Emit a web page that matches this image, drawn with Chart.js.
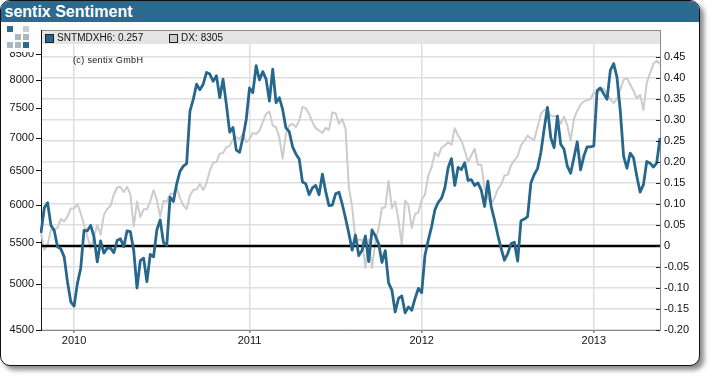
<!DOCTYPE html>
<html>
<head>
<meta charset="utf-8">
<title>sentix Sentiment</title>
<script src="https://cdn.jsdelivr.net/npm/chart.js@4"></script>
<style>
  html, body { margin: 0; padding: 0; background: #fff; }
  body { width: 710px; height: 376px; overflow: hidden; position: relative; font-family: "Liberation Sans", Arial, sans-serif; }
  #card { position: absolute; left: 0; top: 0; width: 698px; height: 364px; border: 1.5px solid #111; border-radius: 10px; background: #fff; box-shadow: 4px 4px 5px #8a8a8a; overflow: hidden; }
  #title { position: absolute; left: 0; top: 0; right: 0; height: 20.5px; background: #2a6a8e; color: #fff; font-weight: bold; font-size: 16px; line-height: 21px; padding-left: 3.5px; }
  #chart { position: absolute; left: 0; top: 0; }
  #logo { position: absolute; left: 3px; top: 23px; width: 37px; height: 29px; background: #fff; }
  #logo i { position: absolute; width: 6px; height: 6px; }
  #band { position: absolute; left: 42px; top: 30px; width: 618px; height: 13px; border-top: 1px solid #888; background: #e4e4e4; font-size: 10px; letter-spacing: 0.05px; line-height: 14px; color: #111; }
  #band span { position: absolute; top: 0; white-space: nowrap; }
  #band i { position: absolute; top: 3px; width: 7px; height: 7px; border: 1px solid #222; }
  #copy { position: absolute; left: 73px; top: 55px; font-size: 9px; letter-spacing: 0.35px; color: #111; }
</style>
</head>
<body>
<div id="card"><div id="title">sentix Sentiment</div></div>
<canvas id="chart" width="710" height="376"></canvas>
<div id="logo"></div>
<div id="band">
  <i style="left:3px;background:#26678b"></i><span style="left:15px">SNTMDXH6: 0.257</span>
  <i style="left:127px;background:#ccc"></i><span style="left:139px">DX: 8305</span>
</div>
<div id="copy">(c) sentix GmbH</div>
<script>
const sentimentValues = [
  0.031, 0.091, 0.103, 0.049, 0.037, -0.002, -0.007, -0.026, -0.085, -0.133, -0.143, -0.089, -0.053, 0.037, 0.036, 0.049,
  0.022, -0.038, 0.012, -0.017, -0.005, -0.005, -0.016, 0.013, 0.017, -0.002, 0.036, 0.034, -0.010, -0.100, -0.035, -0.029,
  -0.085, -0.020, -0.026, 0.038, 0.062, 0.008, 0.002, 0.116, 0.106, 0.148, 0.178, 0.190, 0.196, 0.321, 0.349, 0.385,
  0.372, 0.385, 0.413, 0.409, 0.392, 0.405, 0.353, 0.397, 0.337, 0.271, 0.282, 0.228, 0.223, 0.258, 0.301, 0.376,
  0.365, 0.429, 0.395, 0.415, 0.397, 0.345, 0.421, 0.341, 0.353, 0.325, 0.281, 0.272, 0.236, 0.219, 0.207, 0.152,
  0.148, 0.122, 0.138, 0.144, 0.122, 0.171, 0.130, 0.096, 0.097, 0.124, 0.128, 0.100, 0.066, 0.030, -0.010, 0.026,
  -0.023, -0.010, 0.024, -0.037, 0.038, 0.024, 0.005, -0.039, -0.011, -0.088, -0.105, -0.157, -0.125, -0.119, -0.159, -0.145,
  -0.153, -0.125, -0.101, -0.111, -0.022, 0.014, 0.046, 0.086, 0.104, 0.114, 0.138, 0.186, 0.208, 0.144, 0.187, 0.182,
  0.198, 0.156, 0.158, 0.144, 0.150, 0.133, 0.094, 0.154, 0.094, 0.062, 0.026, -0.006, -0.034, -0.018, 0.005, 0.009,
  -0.036, 0.060, 0.064, 0.070, 0.150, 0.170, 0.184, 0.222, 0.278, 0.330, 0.258, 0.234, 0.309, 0.242, 0.230, 0.190,
  0.173, 0.210, 0.248, 0.181, 0.214, 0.236, 0.236, 0.238, 0.370, 0.376, 0.362, 0.349, 0.418, 0.434, 0.402, 0.322,
  0.214, 0.185, 0.221, 0.210, 0.166, 0.128, 0.146, 0.201, 0.197, 0.188, 0.197, 0.257
];

const daxValues = [
  5627, 5415, 5476, 5671, 5671, 5693, 5811, 5780, 5846, 5956, 5956, 6015, 5890, 5737, 5583, 5436,
  5583, 5728, 5605, 5868, 5947, 5991, 6150, 6250, 6260, 6185, 6260, 6150, 5715, 6050, 5838, 5943,
  5943, 6050, 6215, 6075, 5846, 6060, 6050, 6160, 6160, 6250, 6100, 6000, 5947, 6135, 6215, 6225,
  6300, 6215, 6315, 6500, 6618, 6629, 6758, 6768, 6861, 6876, 6990, 7017, 6990, 7072, 6938, 6990,
  7089, 7072, 7128, 7267, 7406, 7445, 7211, 7184, 7017, 6680, 7072, 7211, 7239, 7184, 7295, 7528,
  7500, 7406, 7267, 7167, 7128, 7089, 7172, 7139, 7433, 7417, 7239, 7322, 7156, 6250, 5978, 5540,
  5540, 5540, 5194, 5540, 5194, 5518, 5693, 5965, 5969, 6350, 5956, 6050, 5802, 5476, 6065, 6000,
  5693, 5881, 5899, 6075, 6150, 6425, 6551, 6773, 6716, 6851, 6887, 6938, 6897, 7167, 7044, 6964,
  6809, 6629, 6732, 6835, 6588, 6588, 6250, 6100, 6025, 6100, 6225, 6290, 6425, 6435, 6577, 6655,
  6721, 6887, 6964, 7044, 7000, 6974, 7184, 7406, 7472, 7489, 7373, 7361, 7373, 7239, 7361, 7211,
  6964, 7322, 7461, 7565, 7623, 7646, 7664, 7780, 7751, 7838, 7855, 7751, 7664, 7594, 7664, 7838,
  8012, 8044, 7925, 7809, 7675, 7739, 7472, 7954, 8137, 8312, 8375, 8305
];

const weeks = sentimentValues.map((_, i) => i);
const zeroLine = weeks.map(() => 0);
const yearWeeks = [10, 63, 115, 167];
const yearLabels = ["2010", "2011", "2012", "2013"];
const leftTicks = [4500, 5000, 5500, 6000, 6500, 7000, 7500, 8000, 8500];
const rightTicks = [-0.2, -0.15, -0.1, -0.05, 0, 0.05, 0.1, 0.15, 0.2, 0.25, 0.3, 0.35, 0.4, 0.45];

const BLUE = "#26678b";
const GRID = "#dedede";
const TICK_FONT = { family: "'Liberation Sans', Arial, sans-serif", size: 11 };

// logo squares: col, row, colour
[[0, 0, "#2a6a8e"], [2, 0, "#c5cfd6"], [1, 1, "#a9b9c4"], [2, 1, "#a9b9c4"], [0, 2, "#a9b9c4"], [1, 2, "#a9b9c4"], [2, 2, "#2a6a8e"]].forEach(([c, r, col]) => {
  const sq = document.createElement("i");
  sq.style.left = 4 + c * 8 + "px";
  sq.style.top = 3 + r * 8 + "px";
  sq.style.background = col;
  document.getElementById("logo").appendChild(sq);
});

// right axis ticks point into the plot, chart.js only draws them outwards
const inwardTicks = {
  id: "inwardTicks",
  afterDatasetsDraw(chart) {
    const scale = chart.scales.yRight;
    const ctx = chart.ctx;
    ctx.save();
    ctx.strokeStyle = "#222";
    ctx.lineWidth = 1;
    scale.ticks.forEach((t) => {
      const y = Math.round(scale.getPixelForValue(t.value)) + 0.5;
      ctx.beginPath();
      ctx.moveTo(chart.chartArea.right - 4, y);
      ctx.lineTo(chart.chartArea.right, y);
      ctx.stroke();
    });
    ctx.restore();
  },
};

new Chart(document.getElementById("chart").getContext("2d"), {
  type: "line",
  plugins: [inwardTicks],
  data: {
    labels: weeks,
    datasets: [
      { label: "SNTMDXH6", data: sentimentValues, yAxisID: "yRight", borderColor: BLUE, borderWidth: 2.8, borderJoinStyle: "round", pointRadius: 0, tension: 0, order: 0 },
      { label: "zero", data: zeroLine, yAxisID: "yRight", borderColor: "#000", borderWidth: 2.5, pointRadius: 0, tension: 0, order: 1 },
      { label: "DX", data: daxValues, yAxisID: "yLeft", borderColor: "#cccccc", borderWidth: 2, borderJoinStyle: "round", pointRadius: 0, tension: 0, order: 2 },
    ],
  },
  options: {
    responsive: false,
    animation: false,
    layout: { padding: { top: 30 } },
    plugins: { legend: { display: false }, tooltip: { enabled: false } },
    scales: {
      x: {
        type: "category",
        afterBuildTicks: (s) => { s.ticks = yearWeeks.map((w) => ({ value: w })); },
        afterFit: (s) => { s.height = 46; },
        ticks: {
          autoSkip: false,
          maxRotation: 0,
          color: "#111",
          font: TICK_FONT,
          padding: 1,
          callback: (v) => yearLabels[yearWeeks.indexOf(v)],
        },
        grid: { color: GRID, lineWidth: 1.5, tickColor: "#888", tickLength: 3 },
        border: { color: "#888" },
      },
      yLeft: {
        type: "logarithmic",
        position: "left",
        min: 4500,
        max: 8987,
        afterBuildTicks: (s) => { s.ticks = leftTicks.map((v) => ({ value: v })); },
        afterFit: (s) => { s.width = 41; },
        ticks: { color: "#111", font: TICK_FONT, padding: 2, callback: (v) => String(v) },
        grid: { drawOnChartArea: false, tickColor: "#111", tickLength: 5 },
        border: { color: "#111" },
      },
      yRight: {
        type: "linear",
        position: "right",
        min: -0.2,
        max: 0.514,
        afterBuildTicks: (s) => { s.ticks = rightTicks.map((v) => ({ value: v })); },
        afterFit: (s) => { s.width = 50; },
        ticks: { color: "#111", font: TICK_FONT, padding: 4, callback: (v) => (v === 0 ? "0" : v.toFixed(2)) },
        grid: { color: GRID, lineWidth: 1.5, drawTicks: false },
        border: { color: "#888" },
      },
    },
  },
});
</script>
</body>
</html>
